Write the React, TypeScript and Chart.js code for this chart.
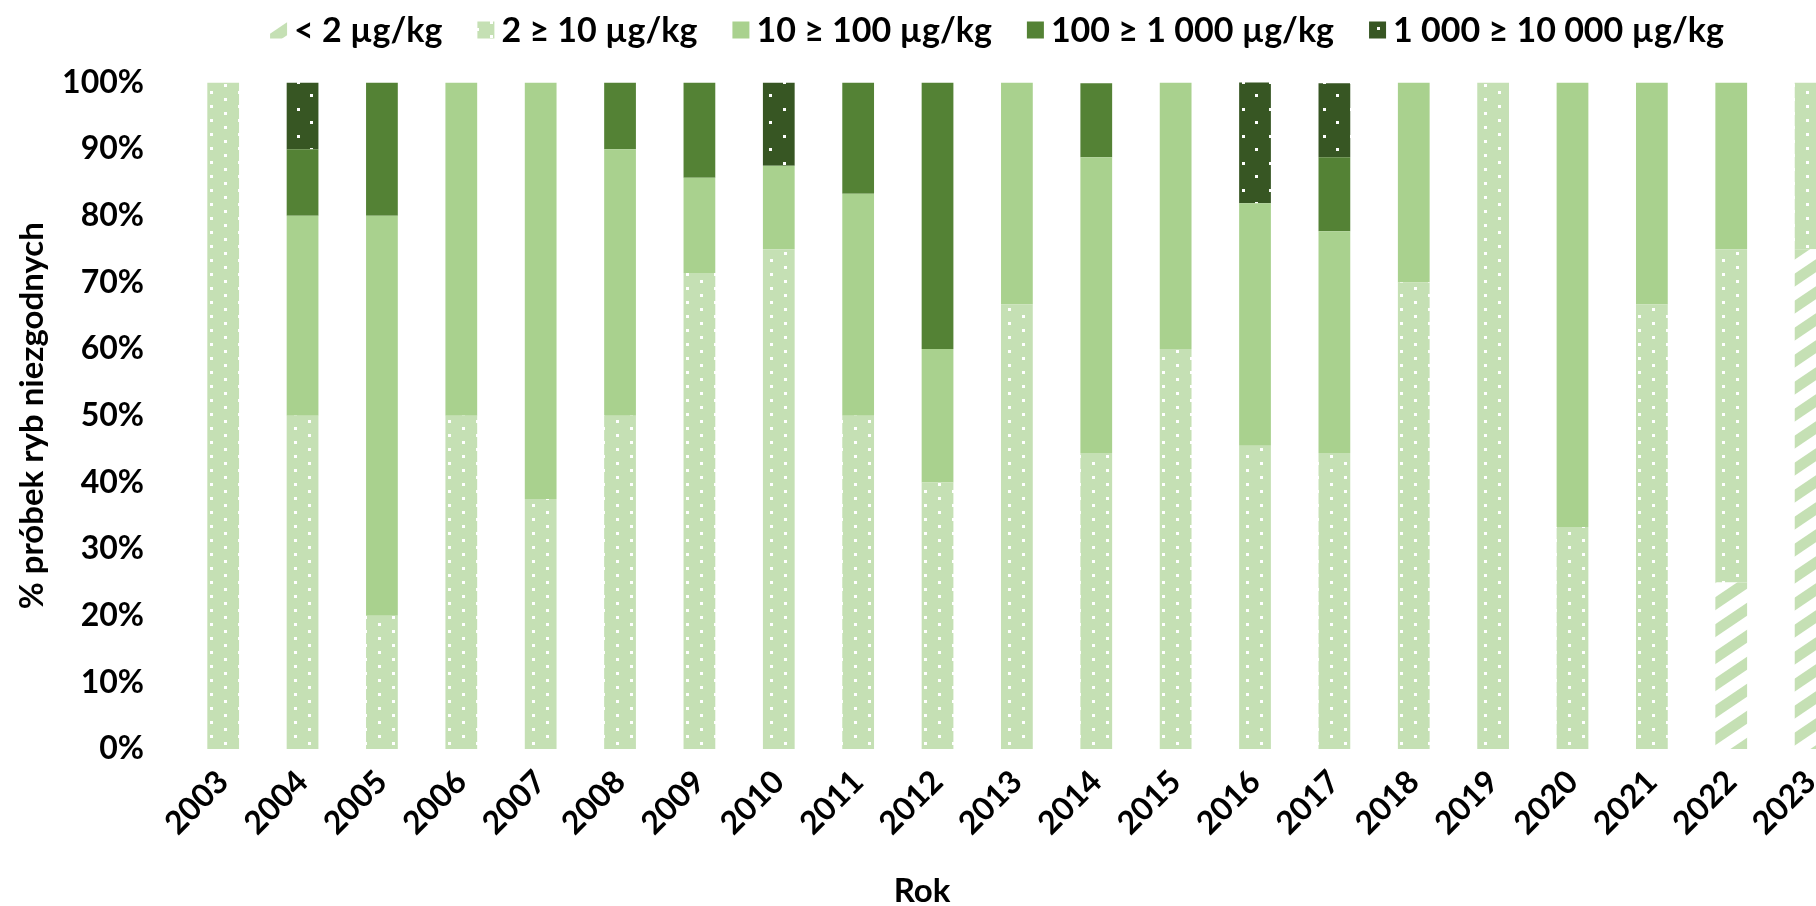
import React, { useEffect, useRef } from 'react';
import { Chart, registerables } from 'chart.js';

Chart.register(...registerables);

const years = ['2003', '2004', '2005', '2006', '2007', '2008', '2009', '2010', '2011', '2012', '2013', '2014', '2015', '2016', '2017', '2018', '2019', '2020', '2021', '2022', '2023'];

const seriesLabels = ['< 2 µg/kg', '2 ≥ 10 µg/kg', '10 ≥ 100 µg/kg', '100 ≥ 1 000 µg/kg', '1 000 ≥ 10 000 µg/kg'];

const below2 = [0, 0, 0, 0, 0, 0, 0, 0, 0, 0, 0, 0, 0, 0, 0, 0, 0, 0, 0, 25, 75];
const from2to10 = [100, 50, 20, 50, 37.5, 50, 71.4, 75, 50, 40, 66.7, 44.4, 60, 45.5, 44.4, 70, 100, 33.3, 66.7, 50, 25];
const from10to100 = [0, 30, 60, 50, 62.5, 40, 14.3, 12.5, 33.3, 20, 33.3, 44.4, 40, 36.4, 33.3, 30, 0, 66.7, 33.3, 25, 0];
const from100to1000 = [0, 10, 20, 0, 0, 10, 14.3, 0, 16.7, 40, 0, 11.1, 0, 0, 11.1, 0, 0, 0, 0, 0, 0];
const from1000to10000 = [0, 10, 0, 0, 0, 0, 0, 12.5, 0, 0, 0, 0, 0, 18.2, 11.1, 0, 0, 0, 0, 0, 0];

const yTickValues = [0, 10, 20, 30, 40, 50, 60, 70, 80, 90, 100];

const yTitle = '% próbek ryb niezgodnych';
const xTitle = 'Rok';

const CANVAS_W = 1900;
const CANVAS_H = 906;
const PLOT_LEFT = 183.5;
const PLOT_RIGHT = 1850.3;
const PLOT_TOP = 82.5;
const PLOT_BOTTOM = 749;

const LIGHT = '#C5E0B4';
const MID = '#A9D18E';
const DARK = '#548235';
const DARKEST = '#375623';

function makeTile(w: number, h: number, draw: (c: CanvasRenderingContext2D) => void): CanvasPattern | string {
  const c = document.createElement('canvas');
  c.width = w;
  c.height = h;
  const g = c.getContext('2d');
  if (!g) return LIGHT;
  draw(g);
  return g.createPattern(c, 'repeat') || LIGHT;
}

function dottedLight() {
  return makeTile(28, 28, (g) => {
    g.fillStyle = LIGHT;
    g.fillRect(0, 0, 28, 28);
    g.fillStyle = '#ffffff';
    g.fillRect(0, 0, 3, 3);
    g.fillRect(14, 7, 3, 3);
    g.fillRect(0, 14, 3, 3);
    g.fillRect(14, 21, 3, 3);
  });
}

function dottedDarkest() {
  return makeTile(27, 27, (g) => {
    g.fillStyle = DARKEST;
    g.fillRect(0, 0, 27, 27);
    g.fillStyle = '#ffffff';
    g.fillRect(0, 0, 3, 3);
    g.fillRect(13, 13, 3, 3);
  });
}

function hatched() {
  const w = 40;
  const h = 27;
  return makeTile(w, h, (g) => {
    g.fillStyle = '#ffffff';
    g.fillRect(0, 0, w, h);
    g.fillStyle = LIGHT;
    for (let k = -1; k <= 1; k++) {
      const o = k * h;
      g.beginPath();
      g.moveTo(0, h + o);
      g.lineTo(w, o);
      g.lineTo(w, 13 + o);
      g.lineTo(0, h + 13 + o);
      g.closePath();
      g.fill();
    }
  });
}

const legendPlugin = {
  id: 'customLegend',
  afterDraw(chart: any) {
    const ctx = chart.ctx as CanvasRenderingContext2D;
    ctx.save();
    ctx.font = 'bold 34px Lato';
    const box = 17;
    const gapBox = 7;
    const gapItem = 35;
    const widths = seriesLabels.map((t) => ctx.measureText(t).width);
    const total = widths.reduce((a, w) => a + box + gapBox + w, 0) + gapItem * (seriesLabels.length - 1);
    let x = 997 - total / 2;
    const y = 30;
    chart.data.datasets.forEach((ds: any, i: number) => {
      ctx.fillStyle = ds.backgroundColor;
      ctx.fillRect(x, y - box / 2, box, box);
      ctx.fillStyle = '#000000';
      ctx.textBaseline = 'middle';
      ctx.textAlign = 'left';
      ctx.fillText(seriesLabels[i], x + box + gapBox, y + 1);
      x += box + gapBox + widths[i] + gapItem;
    });
    // x axis title
    ctx.font = 'bold 33px Lato';
    ctx.textAlign = 'center';
    ctx.textBaseline = 'middle';
    ctx.fillText(xTitle, 922, 891);
    ctx.restore();
  },
};

export default function App() {
  const ref = useRef<HTMLCanvasElement | null>(null);

  useEffect(() => {
    if (!ref.current) return;
    const tickFont = { family: 'Lato', weight: 'bold' as const, size: 32 };
    const colors = [hatched(), dottedLight(), MID, DARK, dottedDarkest()];
    const values = [below2, from2to10, from10to100, from100to1000, from1000to10000];
    const chart = new Chart(ref.current, {
      type: 'bar',
      data: {
        labels: years,
        datasets: values.map((v, i) => ({
          label: seriesLabels[i],
          data: v,
          backgroundColor: colors[i] as any,
          borderWidth: 0,
          categoryPercentage: 1,
          barPercentage: 0.4,
        })),
      },
      options: {
        animation: false,
        responsive: false,
        maintainAspectRatio: false,
        devicePixelRatio: 1,
        layout: { padding: { left: 0, top: PLOT_TOP, right: CANVAS_W - PLOT_RIGHT, bottom: 0 } },
        plugins: {
          legend: { display: false },
          tooltip: { enabled: false },
        },
        scales: {
          x: {
            stacked: true,
            grid: { display: false },
            border: { display: false },
            ticks: {
              autoSkip: false,
              minRotation: 45,
              maxRotation: 45,
              font: tickFont,
              color: '#000000',
              padding: 6,
            },
            afterFit(s: any) {
              s.height = CANVAS_H - PLOT_BOTTOM;
              s.paddingLeft = 0;
              s.paddingRight = 0;
            },
          },
          y: {
            stacked: true,
            min: 0,
            max: 100,
            grid: { display: false },
            border: { display: false },
            afterBuildTicks(s: any) {
              s.ticks = yTickValues.map((v) => ({ value: v }));
            },
            ticks: {
              font: tickFont,
              color: '#000000',
              padding: PLOT_LEFT - 152,
              callback: (v: any) => v + '%',
            },
            title: {
              display: true,
              text: yTitle,
              color: '#000000',
              font: { family: 'Lato', weight: 'bold', size: 33 },
              padding: { top: 13, bottom: 0 },
            },
            afterFit(s: any) {
              s.width = PLOT_LEFT;
              s.paddingTop = 0;
              s.paddingBottom = 0;
            },
          },
        },
      },
      plugins: [legendPlugin],
    });
    return () => chart.destroy();
  }, []);

  return (
    <div style={{ position: 'fixed', left: 0, top: 0, width: 1816, height: 906, overflow: 'hidden', background: '#ffffff' }}>
      <canvas ref={ref} width={CANVAS_W} height={CANVAS_H} style={{ display: 'block', width: CANVAS_W, height: CANVAS_H }} />
    </div>
  );
}
